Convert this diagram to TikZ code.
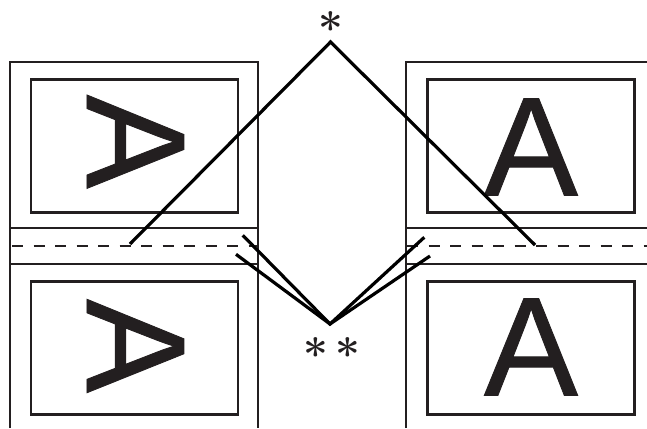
\documentclass[tikz,border=0pt]{standalone}
\usepackage{fontspec}
\newfontfamily\letterfont[FakeBold=0.6]{Liberation Sans}
\definecolor{ink}{HTML}{231F20}
\begin{document}
\begin{tikzpicture}[x=1pt,y=-1pt,
  frame/.style={draw=ink,line width=2.2pt,line join=miter},
  fold/.style={draw=ink,line width=2.2pt,dash pattern=on 11pt off 10.5pt},
  page/.style={draw=ink,line width=2.2pt,inner sep=0pt,minimum width=207pt,minimum height=133pt},
  letter/.style={inner sep=0pt,text=ink,font=\letterfont\fontsize{141}{141}\selectfont},
  star/.style={inner sep=0pt,text=ink,anchor=base,font=\bfseries\fontsize{44}{44}\selectfont},
  pointer/.style={draw=black,line width=3.2pt,line cap=butt,line join=miter}]
\useasboundingbox (0,0) rectangle (647,428);
% left panel frame
\draw[frame] (10,428) -- (10,62) -- (258,62) -- (258,428);
\draw[frame] (10,228) -- (258,228);
\draw[frame] (10,264) -- (258,264);
\draw[fold] (12,246) -- (258,246);
% right panel frame
\draw[frame] (406,428) -- (406,62) -- (647,62);
\draw[frame] (406,228) -- (647,228);
\draw[frame] (406,264) -- (647,264);
\draw[fold] (407,246) -- (647,246);
% inner pages
\node[page] (lt) at (134.5,146) {};
\node[page] (lb) at (134.5,348) {};
\node[page] (rt) at (531,146) {};
\node[page] (rb) at (531,348) {};
% letters
\node[letter,rotate=-90] (ltA) at (135.5,141.7) {A};
\node[letter,rotate=-90] (lbA) at (135.5,346) {A};
\node[letter] (rtA) at (531,147) {A};
\node[letter] (rbA) at (531,347) {A};
% asterisks
\node[star] (s1) at (331,45) {*};
\node[star] (s2) at (331.5,370) {*\hspace{7pt}*};
% pointer lines
\coordinate (top) at (330.5,42);
\coordinate (topL) at (130,244);
\coordinate (topR) at (535,245);
\coordinate (bot) at (330,324);
\coordinate (bLU) at (242.7,235.3);
\coordinate (bLL) at (236,254.3);
\coordinate (bRU) at (424.3,237.3);
\coordinate (bRL) at (430,256);
\draw[pointer] (topL) -- (top) -- (topR);
\draw[pointer] (bLU) -- (bot) -- (bRU);
\draw[pointer] (bLL) -- (bot) -- (bRL);
\end{tikzpicture}
\end{document}
